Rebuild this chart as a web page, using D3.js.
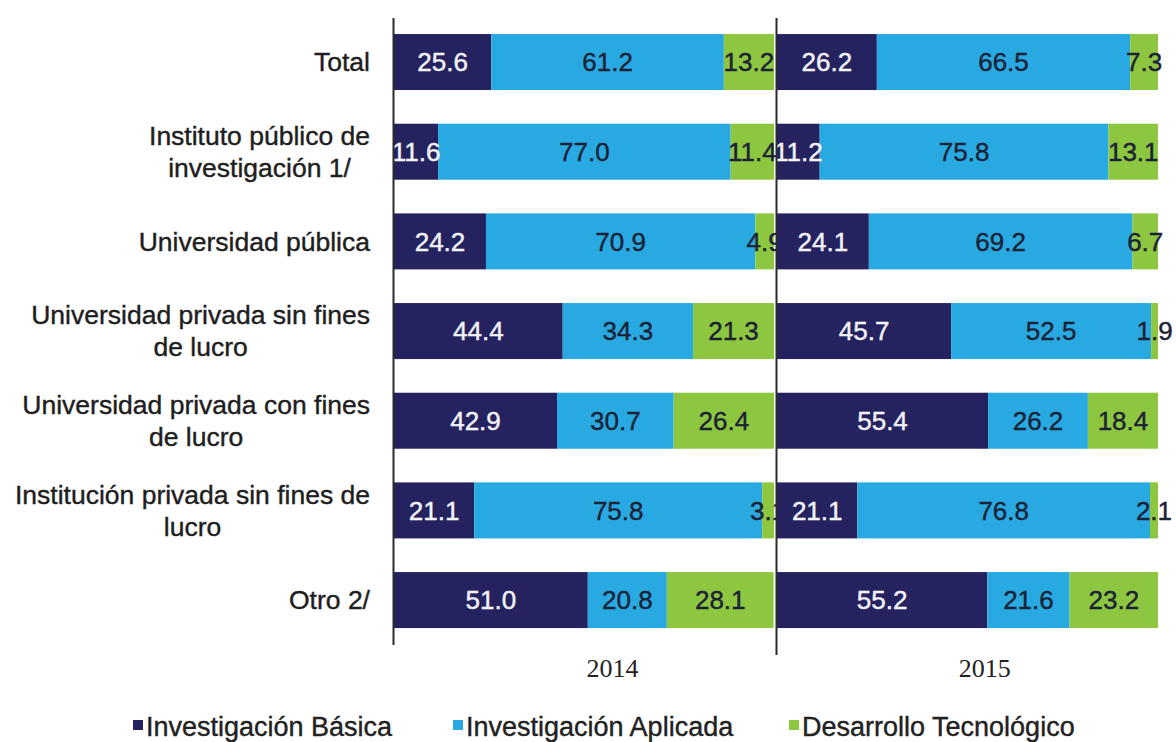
<!DOCTYPE html>
<html>
<head>
<meta charset="utf-8">
<script src="https://cdn.jsdelivr.net/npm/d3@7"></script>
<style>
  html, body { margin: 0; padding: 0; background: #ffffff; }
  svg { display: block; }
</style>
</head>
<body>
<svg id="chart" width="1176" height="742"></svg>
<script>
// ---------------- DATA ----------------
const categories = [
  "Total",
  "Instituto público de\ninvestigación 1/",
  "Universidad pública",
  "Universidad privada sin fines\nde lucro",
  "Universidad privada con fines\nde lucro",
  "Institución privada sin fines de\nlucro",
  "Otro 2/"
];
const years = ["2014", "2015"];
const seriesNames = ["Investigación Básica", "Investigación Aplicada", "Desarrollo Tecnológico"];

const basica2014   = [25.6, 11.6, 24.2, 44.4, 42.9, 21.1, 51.0];
const aplicada2014 = [61.2, 77.0, 70.9, 34.3, 30.7, 75.8, 20.8];
const desarrollo2014 = [13.2, 11.4, 4.9, 21.3, 26.4, 3.1, 28.1];

const basica2015   = [26.2, 11.2, 24.1, 45.7, 55.4, 21.1, 55.2];
const aplicada2015 = [66.5, 75.8, 69.2, 52.5, 26.2, 76.8, 21.6];
const desarrollo2015 = [7.3, 13.1, 6.7, 1.9, 18.4, 2.1, 23.2];

// ---------------- STYLE / LAYOUT ----------------
const colors = ["#25235f", "#29a9e1", "#8dc63f"];
const textColors = ["#f4f4f8", "#1b2236", "#1b2236"];
const font = "'Liberation Sans', Arial, Helvetica, sans-serif";

const panels = [
  { year: years[0], x0: 394, x1: 774, axisX: 393.5, axisBottom: 645, yearAt: 57.5,
    data: [basica2014, aplicada2014, desarrollo2014] },
  { year: years[1], x0: 777, x1: 1158, axisX: 776.5, axisBottom: 655, yearAt: 54.5,
    data: [basica2015, aplicada2015, desarrollo2015] }
];

const svg = d3.select("#chart");

const y = d3.scaleBand()
  .domain(categories)
  .range([17.2, 644.9])
  .paddingInner(0.3755)
  .paddingOuter(0.18775);

// -------- category labels --------
const labelRight = 370;
const lineGap = 32;
const catG = svg.append("g");
categories.forEach(cat => {
  const lines = cat.split("\n");
  const t = catG.append("text")
    .attr("font-family", font)
    .attr("font-size", 26.5)
    .attr("fill", "#1e1e1e")
    .attr("stroke", "#1e1e1e")
    .attr("stroke-width", 0.4);
  const cy = y(cat) + y.bandwidth() / 2;
  const startY = cy - (lines.length - 1) * lineGap / 2;
  lines.forEach((ln, i) => {
    t.append("tspan")
      .attr("y", startY + i * lineGap)
      .attr("dy", "0.35em")
      .text(ln);
  });
  const widths = [];
  t.selectAll("tspan").each(function() { widths.push(this.getComputedTextLength()); });
  const maxW = d3.max(widths);
  t.attr("text-anchor", "middle");
  t.selectAll("tspan").attr("x", labelRight - maxW / 2);
});

// -------- panels --------
panels.forEach(p => {
  const x = d3.scaleLinear().domain([0, 100]).range([p.x0, p.x1]);
  const rows = categories.map((c, i) => {
    let acc = 0;
    return p.data.map((s, k) => {
      const v = s[i];
      const seg = { cat: c, k, v, a: acc, b: acc + v };
      acc += v;
      return seg;
    });
  });
  const segs = rows.flat();
  const g = svg.append("g");
  g.selectAll("rect")
    .data(segs)
    .join("rect")
    .attr("x", d => x(d.a))
    .attr("y", d => y(d.cat))
    .attr("width", d => Math.max(0, x(Math.min(d.b, 100)) - x(d.a)))
    .attr("height", y.bandwidth())
    .attr("fill", d => colors[d.k]);

  g.selectAll("text.val")
    .data(segs)
    .join("text")
    .attr("class", "val")
    .attr("x", d => (x(d.a) + x(Math.min(d.b, 100))) / 2)
    .attr("y", d => y(d.cat) + y.bandwidth() / 2)
    .attr("dy", "0.36em")
    .attr("text-anchor", "middle")
    .attr("font-family", font)
    .attr("font-size", 26)
    .attr("fill", d => textColors[d.k])
    .attr("stroke", d => textColors[d.k])
    .attr("stroke-width", 0.4)
    .text(d => d.v.toFixed(1));

  // axis line
  svg.append("line")
    .attr("x1", p.axisX).attr("x2", p.axisX)
    .attr("y1", 18).attr("y2", p.axisBottom)
    .attr("stroke", "#2b2b2b")
    .attr("stroke-width", 2);

  // year label
  svg.append("text")
    .attr("x", x(p.yearAt))
    .attr("y", 677)
    .attr("text-anchor", "middle")
    .attr("font-family", "'Liberation Serif', 'Times New Roman', serif")
    .attr("font-size", 26)
    .attr("fill", "#222")
    .text(p.year);
});

// -------- legend --------
const legendX = [133, 453, 789];
const legendG = svg.append("g");
seriesNames.forEach((name, k) => {
  legendG.append("rect")
    .attr("x", legendX[k])
    .attr("y", 720)
    .attr("width", 10)
    .attr("height", 10)
    .attr("fill", colors[k]);
  legendG.append("text")
    .attr("x", legendX[k] + 13)
    .attr("y", 726)
    .attr("dy", "0.36em")
    .attr("font-family", font)
    .attr("font-size", 27)
    .attr("fill", "#222")
    .attr("stroke", "#222")
    .attr("stroke-width", 0.4)
    .text(name);
});
</script>
</body>
</html>
